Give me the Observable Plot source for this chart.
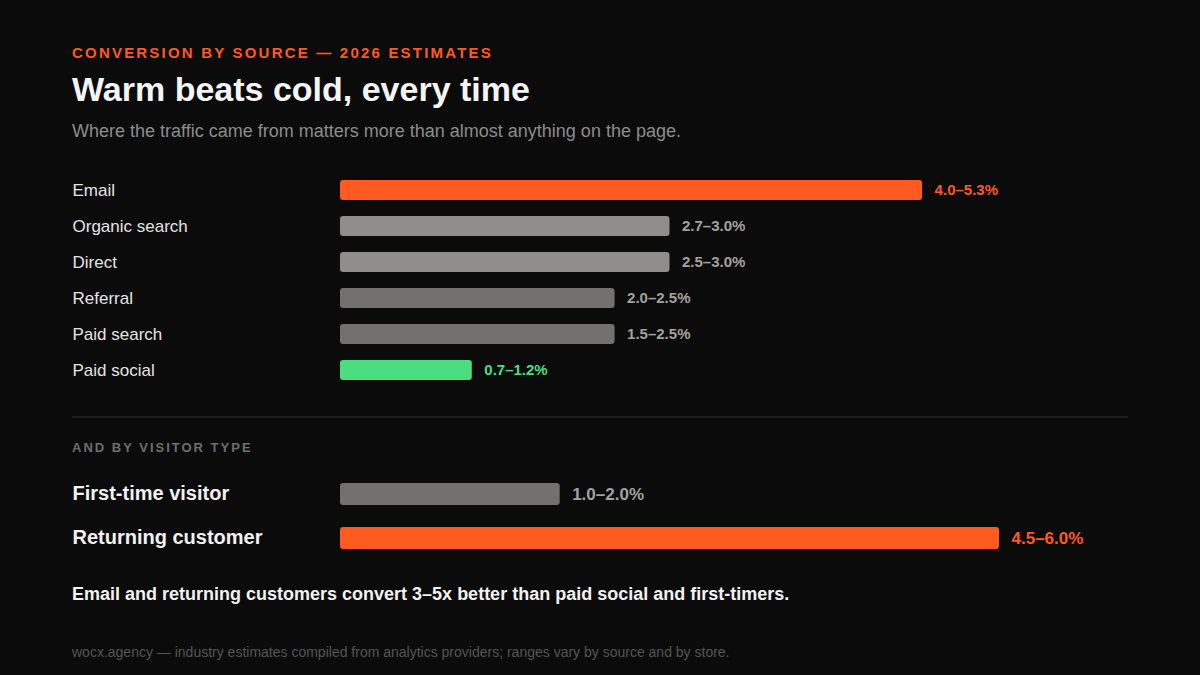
<!DOCTYPE html>
<html>
<head>
<meta charset="utf-8">
<script src="https://cdn.jsdelivr.net/npm/d3@7"></script>
<script src="https://cdn.jsdelivr.net/npm/@observablehq/plot@0.6"></script>
<style>
  html, body { margin: 0; padding: 0; background: #0b0b0b; }
  body { width: 1200px; height: 675px; position: relative; overflow: hidden; font-family: "Liberation Sans", Arial, sans-serif; }
  .abs { position: absolute; left: 72px; white-space: nowrap; line-height: 1; }
  #kicker { top: 44.5px; font-size: 15px; font-weight: 700; letter-spacing: 2.2px; color: #ff5a1f; }
  #title { top: 72px; font-size: 34px; font-weight: 700; color: #f5f5f5; }
  #subtitle { top: 121.5px; font-size: 18px; color: #8c8c8c; }
  #divider { position: absolute; left: 72px; width: 1056px; top: 416px; height: 2px; background: #1e1e1e; }
  #section2 { top: 441px; font-size: 13px; font-weight: 700; letter-spacing: 2px; color: #6e6e6e; }
  #takeaway { top: 585px; font-size: 18px; font-weight: 700; color: #f2f2f2; }
  #footer { top: 644.5px; font-size: 14px; color: #555555; }
  #chart1 { position: absolute; left: 0; top: 172px; }
  #chart2 { position: absolute; left: 0; top: 472px; }
</style>
</head>
<body>
<div class="abs" id="kicker">CONVERSION BY SOURCE — 2026 ESTIMATES</div>
<div class="abs" id="title">Warm beats cold, every time</div>
<div class="abs" id="subtitle">Where the traffic came from matters more than almost anything on the page.</div>
<div id="chart1"></div>
<div id="divider"></div>
<div class="abs" id="section2">AND BY VISITOR TYPE</div>
<div id="chart2"></div>
<div class="abs" id="takeaway">Email and returning customers convert 3–5x better than paid social and first-timers.</div>
<div class="abs" id="footer">wocx.agency — industry estimates compiled from analytics providers; ranges vary by source and by store.</div>
<script>
// ---- data ----
const sources = ["Email", "Organic search", "Direct", "Referral", "Paid search", "Paid social"];
const sourceLow = [4.0, 2.7, 2.5, 2.0, 1.5, 0.7];
const sourceHigh = [5.3, 3.0, 3.0, 2.5, 2.5, 1.2];

const visitors = ["First-time visitor", "Returning customer"];
const visitorLow = [1.0, 4.5];
const visitorHigh = [2.0, 6.0];

// ---- styling by category ----
const ORANGE = "#ff5a1f", GREEN = "#4ade80", LIGHT = "#8f8d89", MID = "#73716d";
const barColor = {
  "Email": ORANGE, "Organic search": LIGHT, "Direct": LIGHT, "Referral": MID,
  "Paid search": MID, "Paid social": GREEN,
  "First-time visitor": MID, "Returning customer": ORANGE
};
const textColor = {
  "Email": ORANGE, "Organic search": "#a3a19d", "Direct": "#a3a19d", "Referral": "#a3a19d",
  "Paid search": "#a3a19d", "Paid social": GREEN,
  "First-time visitor": "#a3a19d", "Returning customer": ORANGE
};

const rows1 = sources.map((name, i) => ({name, low: sourceLow[i], high: sourceHigh[i]}));
const rows2 = visitors.map((name, i) => ({name, low: visitorLow[i], high: visitorHigh[i]}));
const fmt = d => `${d.low.toFixed(1)}–${d.high.toFixed(1)}%`;

const xScale = {domain: [0, 6], range: [340, 999], axis: null};

const chart1 = Plot.plot({
  width: 1200, height: 216,
  marginLeft: 0, marginRight: 0, marginTop: 0, marginBottom: 0,
  style: {background: "transparent", fontFamily: "Liberation Sans, Arial, sans-serif"},
  x: xScale,
  y: {domain: sources, range: [0, 216], padding: 0, axis: null},
  marks: [
    Plot.barX(rows1, {x1: 0, x2: "high", y: "name", fill: d => barColor[d.name], insetTop: 8, insetBottom: 8, rx: 3}),
    Plot.text(rows1, {x: "high", y: "name", text: fmt, dx: 12, textAnchor: "start",
      fill: d => textColor[d.name], fontWeight: 700, fontSize: 15}),
    Plot.text(rows1, {y: "name", text: "name", frameAnchor: "left", dx: 72, textAnchor: "start",
      fill: "#e4e4e4", fontSize: 17})
  ]
});
document.getElementById("chart1").append(chart1);

const chart2 = Plot.plot({
  width: 1200, height: 88,
  marginLeft: 0, marginRight: 0, marginTop: 0, marginBottom: 0,
  style: {background: "transparent", fontFamily: "Liberation Sans, Arial, sans-serif"},
  x: xScale,
  y: {domain: visitors, range: [0, 88], padding: 0, axis: null},
  marks: [
    Plot.barX(rows2, {x1: 0, x2: "high", y: "name", fill: d => barColor[d.name], insetTop: 11, insetBottom: 11, rx: 3}),
    Plot.text(rows2, {x: "high", y: "name", text: fmt, dx: 12, textAnchor: "start",
      fill: d => textColor[d.name], fontWeight: 700, fontSize: 17}),
    Plot.text(rows2, {y: "name", text: "name", frameAnchor: "left", dx: 72, dy: -1, textAnchor: "start",
      fill: "#f2f2f2", fontSize: 20, fontWeight: 700})
  ]
});
document.getElementById("chart2").append(chart2);
</script>
</body>
</html>
